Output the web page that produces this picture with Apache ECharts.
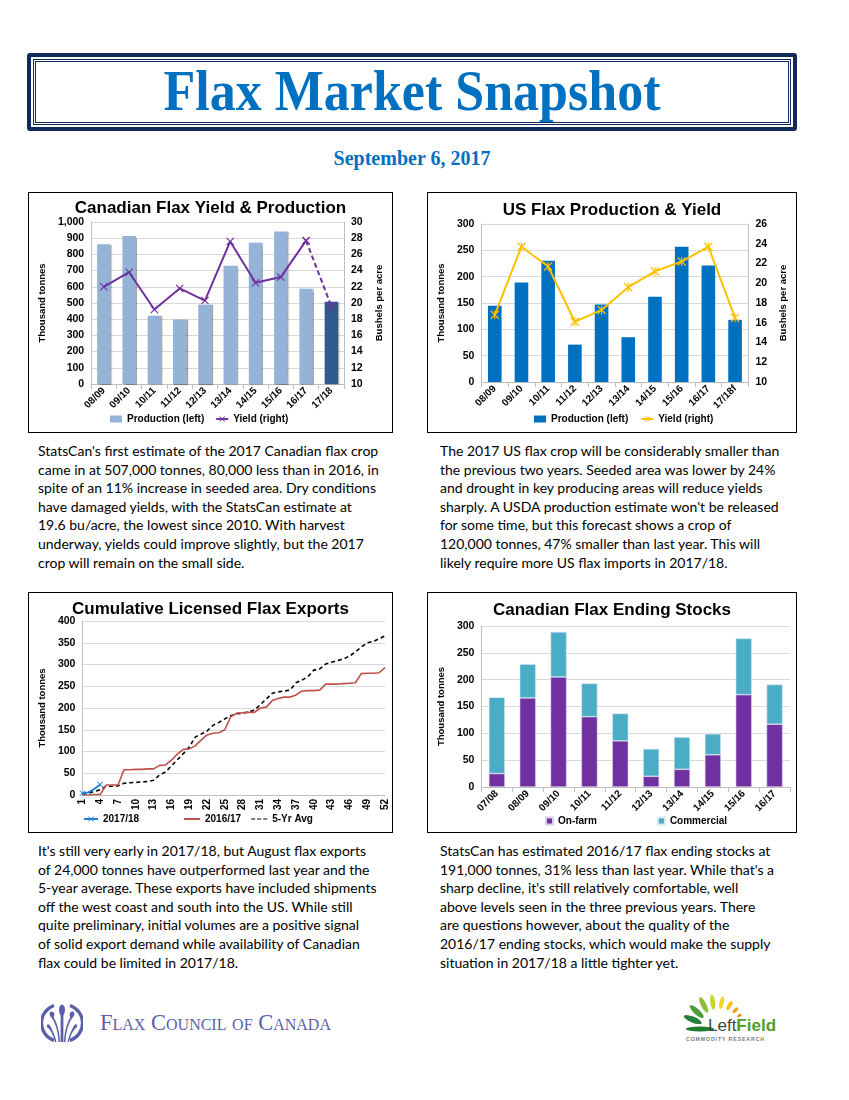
<!DOCTYPE html>
<html><head><meta charset="utf-8">
<script src="https://cdn.jsdelivr.net/npm/echarts@6/dist/echarts.min.js"></script>
<style>
html,body{margin:0;padding:0;background:#fff;}
#page{position:relative;width:849px;height:1100px;overflow:hidden;background:#fff;}
.box{position:absolute;border:1px solid #000;box-sizing:border-box;background:#fff;}
.chart{position:absolute;left:0;top:0;right:0;bottom:0;}
.para{position:absolute;font-family:Lato,'Open Sans',sans-serif;font-size:14px;line-height:18.6px;color:#000;white-space:nowrap;}
#tbox{position:absolute;left:27px;top:53px;width:770px;height:78px;box-sizing:border-box;border:4px solid #12295C;border-radius:3px;}
#tinner{position:absolute;left:2px;top:2px;right:2px;bottom:2px;border:3px double #12295C;}
#title{position:absolute;left:27px;width:770px;top:62px;text-align:center;font-family:'Liberation Serif',serif;font-weight:bold;font-size:52px;line-height:60px;color:#0070C0;transform:scaleY(1.08);}
#date{position:absolute;left:27px;width:770px;top:146px;text-align:center;font-family:'Liberation Serif',serif;font-weight:bold;font-size:20px;line-height:24px;color:#0070C0;}
#fcc{position:absolute;left:100px;top:1010px;font-family:'Liberation Serif',serif;font-variant:small-caps;font-size:22.5px;color:#5B5FA9;white-space:nowrap;}
</style></head>
<body><div id="page">
<div id="tbox"><div id="tinner"></div></div>
<div id="title">Flax Market Snapshot</div>
<div id="date">September 6, 2017</div>

<div class="box" style="left:28px;top:192px;width:365px;height:241px;"><div class="chart" id="c1"></div></div>
<div class="box" style="left:427px;top:192px;width:370px;height:241px;"><div class="chart" id="c2"></div></div>
<div class="box" style="left:28px;top:592px;width:365px;height:241px;"><div class="chart" id="c3"></div></div>
<div class="box" style="left:427px;top:592px;width:370px;height:241px;"><div class="chart" id="c4"></div></div>

<div class="para" style="left:38px;top:442px;">StatsCan's first estimate of the 2017 Canadian flax crop<br>came in at 507,000 tonnes, 80,000 less than in 2016, in<br>spite of an 11% increase in seeded area. Dry conditions<br>have damaged yields, with the StatsCan estimate at<br>19.6 bu/acre, the lowest since 2010. With harvest<br>underway, yields could improve slightly, but the 2017<br>crop will remain on the small side.</div>
<div class="para" style="left:440px;top:442px;">The 2017 US flax crop will be considerably smaller than<br>the previous two years. Seeded area was lower by 24%<br>and drought in key producing areas will reduce yields<br>sharply. A USDA production estimate won't be released<br>for some time, but this forecast shows a crop of<br>120,000 tonnes, 47% smaller than last year. This will<br>likely require more US flax imports in 2017/18.</div>
<div class="para" style="left:38px;top:842px;">It's still very early in 2017/18, but August flax exports<br>of 24,000 tonnes have outperformed last year and the<br>5-year average. These exports have included shipments<br>off the west coast and south into the US. While still<br>quite preliminary, initial volumes are a positive signal<br>of solid export demand while availability of Canadian<br>flax could be limited in 2017/18.</div>
<div class="para" style="left:440px;top:842px;">StatsCan has estimated 2016/17 flax ending stocks at<br>191,000 tonnes, 31% less than last year. While that's a<br>sharp decline, it's still relatively comfortable, well<br>above levels seen in the three previous years. There<br>are questions however, about the quality of the<br>2016/17 ending stocks, which would make the supply<br>situation in 2017/18 a little tighter yet.</div>

<svg style="position:absolute;left:41px;top:1002px;" width="42" height="42" viewBox="0 0 42 42">
 <g fill="none" stroke="#5B5FA9" stroke-width="3.2">
  <path d="M13,3.5 A18.5,18.5 0 0,0 13,38.5"/>
  <path d="M29,3.5 A18.5,18.5 0 0,1 29,38.5"/>
 </g>
 <g fill="#5B5FA9">
  <ellipse cx="21" cy="8" rx="3" ry="5.5"/>
  <rect x="19.6" y="12" width="2.8" height="28"/>
  <path d="M17.5,40 C17,28 14,20 10,15 C7,12 9,8 12,10 C15,12 12,14 13,16 C16,21 18.5,29 19,40 Z"/>
  <path d="M24.5,40 C25,28 28,20 32,15 C35,12 33,8 30,10 C27,12 30,14 29,16 C26,21 23.5,29 23,40 Z"/>
  <path d="M14,40 C12,32 9,27 6,25 C5,23 7,21 8.5,23 C11,27 14,33 15.5,40 Z"/>
  <path d="M28,40 C30,32 33,27 36,25 C37,23 35,21 33.5,23 C31,27 28,33 26.5,40 Z"/>
 </g>
</svg>
<div id="fcc">Flax Council of Canada</div>

<svg style="position:absolute;left:680px;top:990px;" width="104" height="56" viewBox="0 0 104 56">
 <ellipse cx="20" cy="39" rx="14" ry="2.4" fill="#1E7A2E"/>
 <g transform="translate(36,39)">
  <ellipse cx="25" cy="0" rx="9.5" ry="3" fill="#23803A" transform="rotate(-158)"/>
  <ellipse cx="26" cy="0" rx="9" ry="2.9" fill="#4C9E3A" transform="rotate(-138)"/>
  <ellipse cx="27" cy="0" rx="8.5" ry="2.7" fill="#8DBE3B" transform="rotate(-117)"/>
  <ellipse cx="27" cy="0" rx="7.6" ry="2.5" fill="#C6D433" transform="rotate(-97)"/>
  <ellipse cx="27" cy="0" rx="6.5" ry="2.2" fill="#F0D520" transform="rotate(-78)"/>
  <ellipse cx="27" cy="0" rx="5" ry="2" fill="#F4C01C" transform="rotate(-60)"/>
  <ellipse cx="27" cy="0" rx="3.6" ry="1.7" fill="#F0A21E" transform="rotate(-44)"/>
  <ellipse cx="27" cy="0" rx="2.4" ry="1.4" fill="#EA8A1E" transform="rotate(-30)"/>
 </g>
 <text x="28" y="41" font-family="Liberation Sans, Arial, sans-serif" font-size="17" fill="#3C4A3A">Left<tspan font-weight="bold" fill="#4E9F2F">Field</tspan></text>
 <text x="6" y="51" font-family="Liberation Sans, Arial, sans-serif" font-size="5.2" font-weight="bold" fill="#7A7A7A" letter-spacing="0.9">COMMODITY RESEARCH</text>
</svg>
</div>

<script>
// ---------- DATA ----------
const canSeasons = ['08/09','09/10','10/11','11/12','12/13','13/14','14/15','15/16','16/17','17/18'];
const canProduction = [862, 913, 421, 398, 489, 730, 872, 942, 588, 507];
const canYield = [22.0, 23.8, 19.2, 21.8, 20.3, 27.6, 22.5, 23.2, 27.7, 19.6];

const usSeasons = ['08/09','09/10','10/11','11/12','12/13','13/14','14/15','15/16','16/17','17/18f'];
const usProduction = [145, 189, 230, 71, 147, 85, 162, 257, 221, 118];
const usYield = [16.8, 23.7, 21.7, 16.1, 17.3, 19.6, 21.2, 22.2, 23.7, 16.5];

const weeks = ['1','2','3','4','5','6','7','8','9','10','11','12','13','14','15','16','17','18','19','20','21','22','23','24','25','26',
  '27','28','29','30','31','32','33','34','35','36','37','38','39','40','41','42','43','44','45','46','47','48','49','50','51','52'];
const exports1718 = [4, 6, 14, 24];
const exports1617 = [0, 0, 1, 1, 23, 23, 23, 58, 58, 59, 59, 60, 60, 68, 69, 80, 94, 105, 106, 113, 126, 138, 142, 143, 150, 180,
  188, 189, 190, 190, 200, 202, 217, 222, 225, 225, 230, 239, 240, 240, 241, 255, 255, 255, 256, 257, 258, 279, 280, 280, 281, 293];
const exportsAvg = [2, 4, 8, 12, 20, 20, 21, 27, 28, 29, 30, 31, 34, 46, 53, 67, 81, 95, 110, 133, 140, 147, 160, 167, 175, 182,
  187, 188, 191, 195, 208, 221, 234, 237, 239, 241, 258, 264, 272, 287, 290, 301, 305, 309, 313, 319, 329, 340, 350, 353, 359, 366];

const stockSeasons = ['07/08','08/09','09/10','10/11','11/12','12/13','13/14','14/15','15/16','16/17'];
const stocksOnFarm = [25, 166, 205, 131, 86, 20, 33, 60, 172, 117];
const stocksCommercial = [142, 63, 84, 62, 51, 51, 60, 39, 105, 74];

// ---------- STYLE ----------
const F = "'Liberation Sans', Arial, sans-serif";
const lab = {color:'#000', fontWeight:'bold', fontSize:10.5, fontFamily:F};
const nameSt = {color:'#000', fontWeight:'bold', fontSize:9.5, fontFamily:F};
const titleSt = {color:'#000', fontWeight:'bold', fontSize:17, fontFamily:F};
const legSt = {color:'#000', fontWeight:'bold', fontSize:10, fontFamily:F};
const grid = '#D9D9D9', axisC = '#BFBFBF';
const xSym = 'path://M1,0L5,4L9,0L10,1L6,5L10,9L9,10L5,6L1,10L0,9L4,5L0,1Z';
const starSym = 'path://M1,0L5,4L9,0L10,1L6,5L10,9L9,10L5,6L1,10L0,9L4,5L0,1ZM4.4,0L5.6,0L5.6,10L4.4,10Z';
const dashIcon = 'path://M0,0h4v1h-4zM6,0h4v1h-4zM12,0h4v1h-4z';

function catAxis(data, extra){
  return Object.assign({type:'category', data:data,
    axisLabel:Object.assign({rotate:45, interval:0, margin:5}, lab, {fontSize:10}),
    axisTick:{show:true, lineStyle:{color:axisC}},
    axisLine:{lineStyle:{color:axisC}}}, extra||{});
}
function valAxis(min,max,interval,name,gap,extra){
  return Object.assign({type:'value', min:min, max:max, interval:interval, name:name, nameLocation:'middle', nameGap:gap,
    nameTextStyle:nameSt, axisLabel:Object.assign({margin:7}, lab),
    axisLine:{show:true, lineStyle:{color:axisC}}, axisTick:{show:false},
    splitLine:{show:true, lineStyle:{color:grid}}}, extra||{});
}

// ---------- CHART 1 ----------
const c1 = echarts.init(document.getElementById('c1'), null, {renderer:'canvas'});
const n1 = canSeasons.length;
c1.setOption({
  animation:false,
  title:{text:'Canadian Flax Yield & Production', left:'center', top:2, textStyle:titleSt},
  grid:{left:43, right:37, top:29, bottom:48},
  legend:{left:76, bottom:3, itemWidth:12, itemHeight:7, itemGap:11, textStyle:legSt,
    data:[{name:'Production (left)', icon:'rect'}, {name:'Yield (right)'}]},
  xAxis:catAxis(canSeasons),
  yAxis:[valAxis(0,1000,100,'Thousand tonnes',34,{axisLabel:Object.assign({margin:7, formatter:v=>v.toLocaleString('en-US')}, lab)}),
         valAxis(10,30,2,'Bushels per acre',30,{splitLine:{show:false}})],
  series:[
    {name:'Production (left)', type:'bar', barWidth:'53%', yAxisIndex:0,
     itemStyle:{color:'#95B3D7', shadowColor:'rgba(0,0,0,0.35)', shadowOffsetX:1.2, shadowOffsetY:0.5, shadowBlur:1},
     data:canProduction.map((v,i)=> i===n1-1 ? {value:v, itemStyle:{color:'#30598C'}} : v)},
    {name:'Yield (right)', type:'line', yAxisIndex:1, z:5, color:'#7030A0',
     lineStyle:{width:2, color:'#7030A0'}, symbol:xSym, symbolSize:8, itemStyle:{color:'#7030A0'},
     data:canYield.map((v,i)=> i<n1-1 ? v : null)},
    {name:'Yield est', type:'line', yAxisIndex:1, z:5,
     lineStyle:{width:2, color:'#7030A0', type:[5,3]}, symbol:xSym, symbolSize:8, itemStyle:{color:'#7030A0'},
     data:canYield.map((v,i)=> i>=n1-2 ? v : null)}
  ]
});

// ---------- CHART 2 ----------
const c2 = echarts.init(document.getElementById('c2'), null, {renderer:'canvas'});
c2.setOption({
  animation:false,
  title:{text:'US Flax Production & Yield', left:'center', top:4, textStyle:titleSt},
  grid:{left:39, right:41, top:31, bottom:50},
  legend:{left:101, bottom:3, itemWidth:12, itemHeight:7, itemGap:12, textStyle:legSt,
    data:[{name:'Production (left)', icon:'rect'}, {name:'Yield (right)'}]},
  xAxis:catAxis(usSeasons),
  yAxis:[valAxis(0,300,50,'Thousand tonnes',29),
         valAxis(10,26,2,'Bushels per acre',29,{splitLine:{show:false}})],
  series:[
    {name:'Production (left)', type:'bar', barWidth:'51%', yAxisIndex:0, itemStyle:{color:'#0070C0'}, data:usProduction},
    {name:'Yield (right)', type:'line', yAxisIndex:1, z:5, color:'#FFC000',
     lineStyle:{width:2, color:'#FFC000'}, symbol:starSym, symbolSize:9, itemStyle:{color:'#FFC000'}, data:usYield}
  ]
});

// ---------- CHART 3 ----------
const c3 = echarts.init(document.getElementById('c3'), null, {renderer:'canvas'});
c3.setOption({
  animation:false,
  title:{text:'Cumulative Licensed Flax Exports', left:'center', top:3, textStyle:titleSt},
  grid:{left:41, right:7, top:28, bottom:37},
  legend:[
    {left:49, bottom:3, itemWidth:14, itemHeight:7, textStyle:legSt, data:[{name:'2017/18'}]},
    {left:150, bottom:3, itemWidth:16, itemHeight:2, itemGap:10, textStyle:legSt,
     data:[{name:'2016/17', icon:'rect'}, {name:'5-Yr Avg', icon:dashIcon}]}
  ],
  xAxis:catAxis(weeks, {boundaryGap:false,
    axisLabel:Object.assign({rotate:90, interval:2, margin:4}, lab, {fontSize:10}),
    axisTick:{show:false}}),
  yAxis:valAxis(0,400,50,'Thousand tonnes',34),
  series:[
    {name:'5-Yr Avg', type:'line', color:'#000', symbol:'none', lineStyle:{width:1.6, color:'#000', type:[4,3]}, data:exportsAvg},
    {name:'2016/17', type:'line', color:'#C0504D', symbol:'none', lineStyle:{width:1.6, color:'#C0504D'}, data:exports1617},
    {name:'2017/18', type:'line', color:'#1F7FD6', symbol:xSym, symbolSize:6, z:6, showSymbol:true,
     lineStyle:{width:1.8, color:'#1F7FD6'}, itemStyle:{color:'#1F7FD6'}, data:exports1718}
  ]
});

// ---------- CHART 4 ----------
const c4 = echarts.init(document.getElementById('c4'), null, {renderer:'canvas'});
c4.setOption({
  animation:false,
  title:{text:'Canadian Flax Ending Stocks', left:'center', top:4, textStyle:titleSt},
  grid:{left:42, right:6, top:33, bottom:45},
  legend:{left:112, bottom:1, itemWidth:7, itemHeight:7, itemGap:60, textStyle:legSt, icon:'rect',
    data:['On-farm','Commercial']},
  xAxis:catAxis(stockSeasons),
  yAxis:valAxis(0,300,50,'Thousand tonnes',29),
  series:[
    {name:'On-farm', type:'bar', stack:'t', barWidth:'52%', itemStyle:{color:'#7030A0', borderColor:'#D9CCE8', borderWidth:0.6}, data:stocksOnFarm},
    {name:'Commercial', type:'bar', stack:'t', itemStyle:{color:'#4BACC6', borderColor:'#D5EAF1', borderWidth:0.6}, data:stocksCommercial}
  ]
});
</script>
</body></html>
